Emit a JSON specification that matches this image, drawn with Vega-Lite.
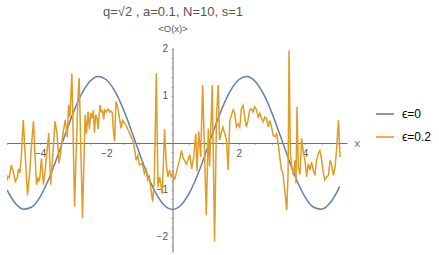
{
  "$schema": "https://vega.github.io/schema/vega-lite/v6.json",
  "width": 340,
  "height": 204,
  "autosize": {"type": "none"},
  "padding": {"left": 7, "top": 48, "right": 92, "bottom": 3},
  "background": "white",
  "config": {"view": {"stroke": null}, "font": "Liberation Sans", "axis": {"labelOverlap": false}},
  "title": {
    "text": "q=√2 , a=0.1, N=10, s=1",
    "subtitle": "<O(x)>",
    "fontSize": 13,
    "fontWeight": "normal",
    "color": "#555555",
    "subtitleFontSize": 9.5,
    "subtitleColor": "#555555",
    "subtitlePadding": 5,
    "anchor": "middle",
    "frame": "group",
    "dx": -4,
    "offset": 10
  },
  "datasets": {
    "blue": [
      {"x": -5.0, "y": -0.998}, {"x": -4.75, "y": -1.283}, {"x": -4.5, "y": -1.41}, {"x": -4.25, "y": -1.362},
      {"x": -4.0, "y": -1.146}, {"x": -3.75, "y": -0.788}, {"x": -3.5, "y": -0.332}, {"x": -3.25, "y": 0.164},
      {"x": -3.0, "y": 0.64}, {"x": -2.75, "y": 1.037}, {"x": -2.5, "y": 1.306}, {"x": -2.25, "y": 1.413},
      {"x": -2.0, "y": 1.345}, {"x": -1.75, "y": 1.111}, {"x": -1.5, "y": 0.74}, {"x": -1.25, "y": 0.277},
      {"x": -1.0, "y": -0.22}, {"x": -0.75, "y": -0.691}, {"x": -0.5, "y": -1.075}, {"x": -0.25, "y": -1.327},
      {"x": 0.0, "y": -1.414}, {"x": 0.25, "y": -1.327}, {"x": 0.5, "y": -1.075}, {"x": 0.75, "y": -0.691},
      {"x": 1.0, "y": -0.22}, {"x": 1.25, "y": 0.277}, {"x": 1.5, "y": 0.74}, {"x": 1.75, "y": 1.111},
      {"x": 2.0, "y": 1.345}, {"x": 2.25, "y": 1.413}, {"x": 2.5, "y": 1.306}, {"x": 2.75, "y": 1.037},
      {"x": 3.0, "y": 0.64}, {"x": 3.25, "y": 0.164}, {"x": 3.5, "y": -0.332}, {"x": 3.75, "y": -0.788},
      {"x": 4.0, "y": -1.146}, {"x": 4.25, "y": -1.362}, {"x": 4.5, "y": -1.41}, {"x": 4.75, "y": -1.283},
      {"x": 5.0, "y": -0.998}, {"x": 5.05, "y": -0.924}
    ],
    "orange": [
      {"x": -5.01, "y": -0.81}, {"x": -4.97, "y": -0.71}, {"x": -4.93, "y": -0.74}, {"x": -4.87, "y": -0.47},
      {"x": -4.81, "y": -0.61}, {"x": -4.75, "y": -0.82}, {"x": -4.69, "y": -0.74}, {"x": -4.65, "y": -0.55},
      {"x": -4.61, "y": -0.64}, {"x": -4.57, "y": -0.33}, {"x": -4.51, "y": 0.49}, {"x": -4.38, "y": -1.11},
      {"x": -4.32, "y": -0.67}, {"x": -4.26, "y": -0.04}, {"x": -4.2, "y": 0.46}, {"x": -4.11, "y": -0.89},
      {"x": -4.06, "y": -0.75}, {"x": -4.02, "y": -0.82}, {"x": -3.96, "y": -0.33}, {"x": -3.9, "y": -0.89},
      {"x": -3.84, "y": -0.53}, {"x": -3.74, "y": 0.21}, {"x": -3.68, "y": -0.89}, {"x": -3.62, "y": -0.3},
      {"x": -3.55, "y": 0.46}, {"x": -3.49, "y": 0.2}, {"x": -3.43, "y": -0.43}, {"x": -3.38, "y": -0.2},
      {"x": -3.3, "y": 0.24}, {"x": -3.24, "y": 0.49}, {"x": -3.18, "y": 0.12}, {"x": -3.14, "y": 0.81},
      {"x": -3.1, "y": 0.55}, {"x": -3.04, "y": 1.48}, {"x": -2.96, "y": -1.35}, {"x": -2.86, "y": 0.95},
      {"x": -2.82, "y": 1.38}, {"x": -2.72, "y": -1.6}, {"x": -2.64, "y": 0.6}, {"x": -2.6, "y": 0.2},
      {"x": -2.55, "y": 0.67}, {"x": -2.51, "y": 0.29}, {"x": -2.47, "y": 0.64}, {"x": -2.43, "y": 0.52},
      {"x": -2.39, "y": 0.7}, {"x": -2.36, "y": 0.22}, {"x": -2.32, "y": 0.6}, {"x": -2.28, "y": 0.52},
      {"x": -2.25, "y": 0.3}, {"x": -2.19, "y": 0.81}, {"x": -2.15, "y": 0.66}, {"x": -2.11, "y": 0.68},
      {"x": -2.08, "y": 0.5}, {"x": -2.05, "y": 0.7}, {"x": -2.0, "y": 0.66}, {"x": -1.95, "y": 0.72},
      {"x": -1.9, "y": 0.66}, {"x": -1.86, "y": 0.68}, {"x": -1.82, "y": 0.64}, {"x": -1.79, "y": 0.3},
      {"x": -1.75, "y": 0.03}, {"x": -1.71, "y": 0.88}, {"x": -1.67, "y": 0.8}, {"x": -1.62, "y": 0.6},
      {"x": -1.55, "y": 0.31}, {"x": -1.51, "y": 0.48}, {"x": -1.41, "y": 0.38}, {"x": -1.3, "y": 0.21},
      {"x": -1.2, "y": 0.06}, {"x": -1.15, "y": -0.11}, {"x": -1.1, "y": -0.37}, {"x": -1.05, "y": -0.27},
      {"x": -1.0, "y": -0.47}, {"x": -0.92, "y": -0.43}, {"x": -0.85, "y": -0.65}, {"x": -0.8, "y": -0.57},
      {"x": -0.75, "y": -0.79}, {"x": -0.7, "y": -0.72}, {"x": -0.65, "y": -1.0}, {"x": -0.6, "y": -1.25},
      {"x": -0.55, "y": -0.79}, {"x": -0.49, "y": 1.48}, {"x": -0.44, "y": -0.94}, {"x": -0.39, "y": -0.72},
      {"x": -0.31, "y": -1.08}, {"x": -0.24, "y": 0.29}, {"x": -0.19, "y": -0.44}, {"x": -0.14, "y": -0.72},
      {"x": -0.09, "y": -0.58}, {"x": -0.04, "y": -0.72}, {"x": 0.01, "y": -0.65}, {"x": 0.06, "y": -0.79},
      {"x": 0.12, "y": -0.62}, {"x": 0.21, "y": -0.37}, {"x": 0.27, "y": -0.16}, {"x": 0.31, "y": -0.3},
      {"x": 0.36, "y": -0.37}, {"x": 0.42, "y": -0.45}, {"x": 0.52, "y": -0.25}, {"x": 0.58, "y": -0.55},
      {"x": 0.64, "y": -0.3}, {"x": 0.7, "y": 0.2}, {"x": 0.74, "y": -0.6}, {"x": 0.79, "y": 0.25},
      {"x": 0.85, "y": -0.3}, {"x": 0.91, "y": 1.23}, {"x": 1.02, "y": -1.54}, {"x": 1.08, "y": 0.3},
      {"x": 1.12, "y": -0.5}, {"x": 1.2, "y": 1.23}, {"x": 1.27, "y": -2.1}, {"x": 1.33, "y": 0.6},
      {"x": 1.38, "y": 1.23}, {"x": 1.42, "y": 0.06}, {"x": 1.52, "y": 0.34}, {"x": 1.63, "y": 0.06},
      {"x": 1.68, "y": -0.58}, {"x": 1.73, "y": 0.48}, {"x": 1.83, "y": 0.7}, {"x": 1.88, "y": 0.63},
      {"x": 1.93, "y": 0.34}, {"x": 1.98, "y": 0.41}, {"x": 2.03, "y": 0.34}, {"x": 2.08, "y": 0.73},
      {"x": 2.13, "y": 0.8}, {"x": 2.18, "y": 0.55}, {"x": 2.23, "y": 0.34}, {"x": 2.28, "y": 0.48},
      {"x": 2.33, "y": 0.7}, {"x": 2.38, "y": 0.73}, {"x": 2.43, "y": 0.66}, {"x": 2.48, "y": 0.77},
      {"x": 2.54, "y": 0.7}, {"x": 2.59, "y": 0.55}, {"x": 2.64, "y": 0.63}, {"x": 2.69, "y": 0.52},
      {"x": 2.74, "y": 0.45}, {"x": 2.79, "y": 0.55}, {"x": 2.84, "y": 0.52}, {"x": 2.89, "y": 0.34},
      {"x": 2.94, "y": 0.48}, {"x": 2.99, "y": 0.34}, {"x": 3.04, "y": 0.16}, {"x": 3.09, "y": 0.13},
      {"x": 3.14, "y": 0.2}, {"x": 3.19, "y": -0.01}, {"x": 3.24, "y": -0.3}, {"x": 3.29, "y": -0.58},
      {"x": 3.33, "y": -0.62}, {"x": 3.39, "y": -1.0}, {"x": 3.45, "y": -1.43}, {"x": 3.49, "y": -0.67},
      {"x": 3.52, "y": 1.97}, {"x": 3.56, "y": -0.2}, {"x": 3.6, "y": -0.51}, {"x": 3.65, "y": -0.69},
      {"x": 3.7, "y": -0.37}, {"x": 3.73, "y": -0.86}, {"x": 3.76, "y": 0.77}, {"x": 3.8, "y": -0.5},
      {"x": 3.85, "y": -0.67}, {"x": 3.9, "y": 0.1}, {"x": 3.95, "y": -0.2}, {"x": 4.0, "y": -0.37},
      {"x": 4.05, "y": -0.72}, {"x": 4.1, "y": -0.44}, {"x": 4.15, "y": -0.58}, {"x": 4.2, "y": -0.41},
      {"x": 4.25, "y": -0.58}, {"x": 4.3, "y": -0.69}, {"x": 4.35, "y": -0.37}, {"x": 4.4, "y": -0.23},
      {"x": 4.45, "y": -0.16}, {"x": 4.5, "y": -0.34}, {"x": 4.55, "y": -0.62}, {"x": 4.6, "y": -0.79},
      {"x": 4.66, "y": -0.72}, {"x": 4.71, "y": -0.69}, {"x": 4.76, "y": -0.37}, {"x": 4.81, "y": -0.48},
      {"x": 4.86, "y": -0.69}, {"x": 4.91, "y": -0.51}, {"x": 4.96, "y": -0.1}, {"x": 5.01, "y": 0.48},
      {"x": 5.06, "y": -0.3}
    ]
  },
  "encoding": {
    "x": {
      "field": "x", "type": "quantitative",
      "scale": {"domain": [-5.0, 5.27], "nice": false, "zero": false},
      "axis": {
        "orient": "bottom", "offset": -109, "grid": false,
        "values": [-5, -4.5, -4, -3.5, -3, -2.5, -2, -1.5, -1, -0.5, 0, 0.5, 1, 1.5, 2, 2.5, 3, 3.5, 4, 4.5, 5],
        "domainColor": "#707070", "tickColor": "#707070", "tickSize": 1, "tickWidth": 1,
        "labelExpr": "(abs(datum.value/2 - round(datum.value/2)) < 0.01 && datum.value != 0) ? (datum.value < 0 ? '−' + abs(datum.value) : '' + datum.value) : ''",
        "labelFontSize": 10, "labelColor": "#555555", "labelPadding": 4, "labelFlush": false, "labelOverlap": false,
        "title": "x", "titleX": 347, "titleY": 0, "titleAlign": "left", "titleBaseline": "middle",
        "titleFontSize": 11, "titleFontWeight": "normal", "titleColor": "#707070",
        "encode": {"ticks": {"update": {"y2": {"signal": "abs(datum.value/2 - round(datum.value/2)) < 0.01 ? -4 : -2"}}}}
      }
    },
    "y": {
      "field": "y", "type": "quantitative",
      "scale": {"domain": [-2.32, 2.02], "nice": false, "zero": false},
      "axis": {
        "orient": "left", "offset": -165.5, "grid": false,
        "values": [-2.2, -2, -1.8, -1.6, -1.4, -1.2, -1, -0.8, -0.6, -0.4, -0.2, 0.2, 0.4, 0.6, 0.8, 1, 1.2, 1.4, 1.6, 1.8, 2],
        "domainColor": "#707070", "tickColor": "#707070", "tickSize": 1, "tickWidth": 1,
        "labelExpr": "(abs(datum.value - round(datum.value)) < 0.01 && datum.value != 0) ? (datum.value < 0 ? '−' + abs(datum.value) : '' + datum.value) : ''",
        "labelFontSize": 10, "labelColor": "#555555", "labelPadding": 4, "labelFlush": false, "labelOverlap": false,
        "title": null,
        "encode": {"ticks": {"update": {"x2": {"signal": "abs(datum.value - round(datum.value)) < 0.01 ? 4 : 2"}}}}
      }
    },
    "color": {
      "field": "series", "type": "nominal",
      "scale": {"domain": ["ϵ=0", "ϵ=0.2"], "range": ["#5E81B5", "#E19C24"]},
      "legend": {
        "orient": "none", "legendX": 368, "legendY": 56, "title": null,
        "symbolType": "stroke", "symbolSize": 324, "symbolStrokeWidth": 1.6,
        "labelFontSize": 12, "labelColor": "#000000", "labelOffset": 7,
        "rowPadding": 7, "padding": 0
      }
    }
  },
  "layer": [
    {
      "data": {"name": "blue"},
      "transform": [{"calculate": "'ϵ=0'", "as": "series"}],
      "mark": {"type": "line", "interpolate": "monotone", "strokeWidth": 1.5, "clip": true}
    },
    {
      "data": {"name": "orange"},
      "transform": [{"calculate": "'ϵ=0.2'", "as": "series"}],
      "mark": {"type": "line", "interpolate": "linear", "strokeWidth": 1.5, "clip": true}
    }
  ]
}
